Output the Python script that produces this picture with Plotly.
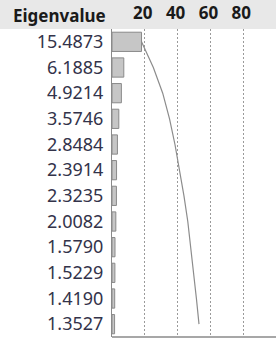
import plotly.graph_objects as go
import numpy as np

eigenvalues = [15.4873, 6.1885, 4.9214, 3.5746, 2.8484, 2.3914,
               2.3235, 2.0082, 1.5790, 1.5229, 1.4190, 1.3527]
n_variables = 86
x_ticks = [20, 40, 60, 80]
header = "Eigenvalue"

pct = [e / n_variables * 100 for e in eigenvalues]
cum_pct = list(np.cumsum(pct))
rows = list(range(len(eigenvalues)))
labels = [f"{e:.4f}" for e in eigenvalues]

W, H = 276, 339
ML, MR, MT, MB = 112, 0, 29, 2
ph = H - MT - MB
pw = W - ML - MR

fig = go.Figure()
fig.add_trace(go.Scatter(x=cum_pct, y=rows, mode="lines",
                         line=dict(color="#8c8c8c", width=1.2),
                         hoverinfo="skip", showlegend=False))
fig.add_trace(go.Bar(x=pct, y=rows, orientation="h",
                     marker=dict(color="#c6c6c6", line=dict(color="#8a8a8a", width=1)),
                     showlegend=False))

fig.update_layout(
    width=W, height=H,
    margin=dict(l=ML, r=MR, t=MT, b=MB, autoexpand=False),
    paper_bgcolor="white", plot_bgcolor="white",
    bargap=0.25,
    xaxis=dict(range=[0, 100], side="top", tickvals=x_ticks,
               ticktext=[str(t) for t in x_ticks], automargin=False,
               showgrid=True, gridcolor="#9a9a9a", griddash="2px,2px", gridwidth=1,
               zeroline=False, showline=False, ticks="",
               tickfont=dict(family="Noto Sans", size=17, color="#1a1a1a", weight="bold"),
               ticklabelstandoff=6, ticklabelshift=-2, fixedrange=True),
    yaxis=dict(range=[len(rows) - 0.5, -0.5], tickvals=rows, ticktext=labels,
               automargin=False,
               showgrid=False, zeroline=False, showline=True, linecolor="#8a8a8a",
               linewidth=1, ticks="", ticklabelstandoff=4,
               tickfont=dict(family="Noto Sans", size=18, color="#33334a")),
)

# header band
fig.add_shape(type="rect", xref="paper", yref="paper",
              x0=-ML / pw, x1=1.0, y0=1.0, y1=1 + MT / ph + 0.01,
              fillcolor="#e8e8e8", line=dict(width=0), layer="below")
# bottom frame line
fig.add_shape(type="line", xref="paper", yref="paper", x0=0, x1=1, y0=0, y1=0,
              line=dict(color="#8a8a8a", width=1.5))
fig.add_annotation(text=header, xref="paper", yref="paper",
                   x=-ML / pw + 11 / pw, y=1 + 14 / ph,
                   xanchor="left", yanchor="middle", showarrow=False,
                   font=dict(family="Noto Sans", size=17, color="#1a1a1a", weight="bold"))

fig.write_html("out.html", config={"displayModeBar": False},
               post_script="document.body.style.margin='0px';")
